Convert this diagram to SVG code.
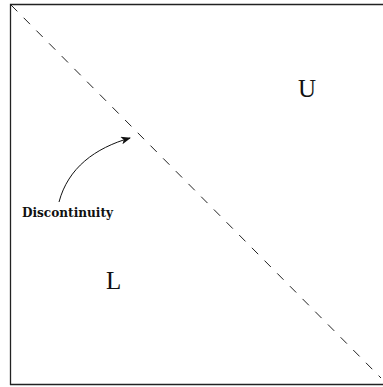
<svg xmlns="http://www.w3.org/2000/svg" width="383" height="387" viewBox="0 0 383 387">
<style>
.lbl{font-family:"Liberation Serif","Times New Roman",serif;font-size:25px;fill:#111}
.small{font-family:"DejaVu Serif",serif;font-weight:bold;font-size:12px;fill:#111}
</style>
<defs>
<marker id="ah" markerWidth="10" markerHeight="8" refX="9" refY="4" orient="auto" markerUnits="userSpaceOnUse">
<path d="M0,0 L10,4 L0,8 L2.5,4 Z" fill="#111"/>
</marker>
</defs>
<rect width="383" height="387" fill="#fff"/>
<g id="frame">
<path d="M10.5,385 L10.5,4.5 L384,4.5" fill="none" stroke="#222" stroke-width="1.3"/>
<path d="M10,384.5 L384,384.5" fill="none" stroke="#222" stroke-width="1.5"/>
</g>
<g id="connectors">
<path id="discontinuity-line" d="M11,5 L381,378" fill="none" stroke="#222" stroke-width="1" stroke-dasharray="9,9"/>
<path d="M59,202 C68,168 95,148 130,138" fill="none" stroke="#111" stroke-width="1" marker-end="url(#ah)"/>
</g>
<g id="U"><text class="lbl" x="298" y="97">U</text></g>
<g id="L"><text class="lbl" x="106" y="289">L</text></g>
<g id="Discontinuity"><text class="small" x="22" y="217" textLength="91" lengthAdjust="spacingAndGlyphs">Discontinuity</text></g>
</svg>
